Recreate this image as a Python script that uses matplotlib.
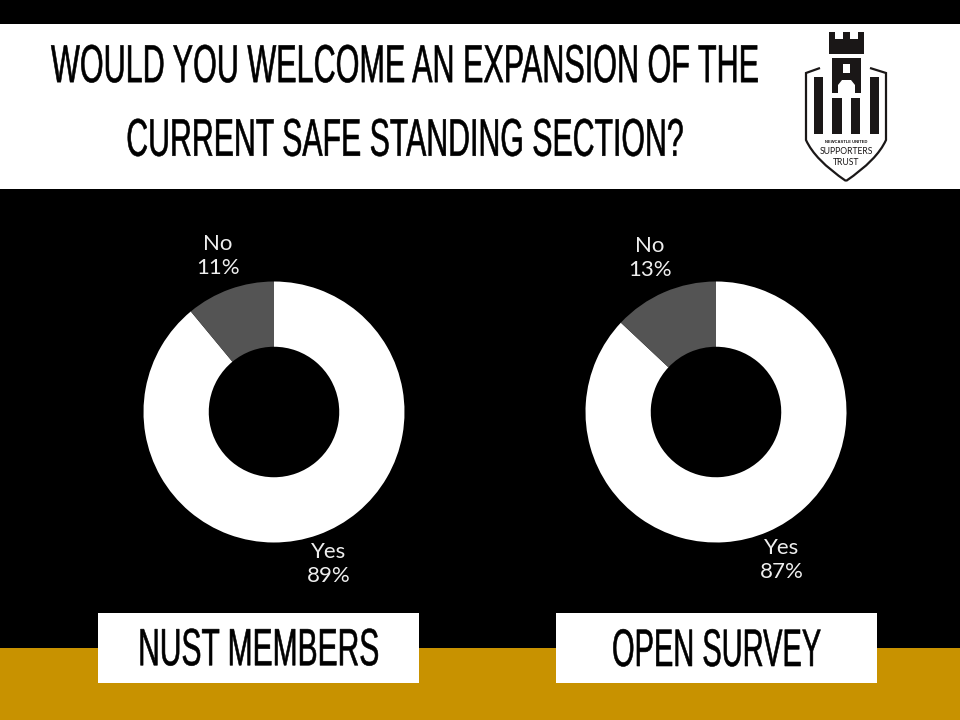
import matplotlib
matplotlib.use('Agg')
import matplotlib.pyplot as plt
from matplotlib.patches import Rectangle, Polygon, PathPatch
from matplotlib.path import Path
from matplotlib.patheffects import AbstractPathEffect
from matplotlib.transforms import Affine2D

title_lines = ['WOULD YOU WELCOME AN EXPANSION OF THE', 'CURRENT SAFE STANDING SECTION?']
categories = ['Yes', 'No']
nust_values = [89, 11]
open_values = [87, 13]
panel_names = ['NUST MEMBERS', 'OPEN SURVEY']

GOLD = '#c89200'
GREY = '#545454'
HEAD = 'Liberation Sans'
LIGHT = 'Lato'


# no condensed font installed: stretch the glyphs upward around their centre line
class TallText(AbstractPathEffect):
	def __init__(self, cy_px, factor):
		super().__init__()
		self.cy = 720 - cy_px
		self.factor = factor

	def draw_path(self, renderer, gc, tpath, affine, rgbFace=None):
		a = affine + Affine2D().translate(0, -self.cy).scale(1, self.factor).translate(0, self.cy)
		gc0 = renderer.new_gc()
		gc0.copy_properties(gc)
		gc0.set_linewidth(0.4)
		gc0.set_foreground('black')
		renderer.draw_path(gc0, tpath, a, rgbFace)
		gc0.restore()


fig = plt.figure(figsize=(9.6, 7.2), dpi=100, facecolor='black')

# whole figure in pixel coordinates for the poster furniture
bg = fig.add_axes([0, 0, 1, 1])
bg.set_xlim(0, 960)
bg.set_ylim(720, 0)
bg.axis('off')
bg.add_patch(Rectangle((0, 24), 960, 165, fc='white', ec='none'))
bg.add_patch(Rectangle((0, 648), 960, 72, fc=GOLD, ec='none'))
bg.add_patch(Rectangle((98, 613), 321, 70, fc='white', ec='none'))
bg.add_patch(Rectangle((556, 613), 321, 70, fc='white', ec='none'))


def tall_label(x, y, s, size, factor):
	t = bg.text(x, y, s, fontsize=size, family=HEAD, ha='center', va='center_baseline', color='black')
	t.set_path_effects([TallText(y, factor)])


tall_label(404.5, 62, title_lines[0], 22, 1.75)
tall_label(404.5, 136.5, title_lines[1], 21.8, 1.75)
tall_label(259, 646, panel_names[0], 21.6, 1.75)
tall_label(716.5, 646, panel_names[1], 20.9, 1.82)


def donut(cx, values, no_xy, yes_xy):
	r = 130.5
	ax = fig.add_axes([(cx - r) / 960, (720 - 412 - r) / 720, 2 * r / 960, 2 * r / 720])
	ax.pie(values, colors=['white', GREY], startangle=90, counterclock=False, radius=1,
		wedgeprops=dict(width=0.5, edgecolor='none'))
	ax.set_xlim(-1, 1)
	ax.set_ylim(-1, 1)
	bg.text(no_xy[0], no_xy[1], categories[1] + '\n' + str(values[1]) + '%', color='#eeeeee', fontsize=16,
		family=LIGHT, ha='center', va='center', linespacing=1.2)
	bg.text(yes_xy[0], yes_xy[1], categories[0] + '\n' + str(values[0]) + '%', color='#eeeeee', fontsize=16,
		family=LIGHT, ha='center', va='center', linespacing=1.2)


donut(274, nust_values, (218, 256), (329, 564))
donut(716, open_values, (650, 258), (782, 560))

# logo
dark = '#1a1717'
bg.add_patch(Polygon([(829, 32), (835, 32), (835, 39), (843, 39), (843, 32), (850, 32), (850, 39), (858, 39),
	(858, 32), (864, 32), (864, 54), (829, 54)], fc=dark, ec='none'))
bg.add_patch(Polygon([(832, 58), (861, 58), (861, 93), (855, 93), (855, 85), (851, 80), (842, 80), (838, 85),
	(838, 93), (832, 93)], fc=dark, ec='none'))
bg.add_patch(Rectangle((843, 64), 7, 9, fc='white', ec='none'))
for x, y0, w in [(814, 77, 9), (832, 98, 10), (851, 98, 9), (870, 77, 9)]:
	bg.add_patch(Rectangle((x, y0), w, 134 - y0, fc=dark, ec='none'))
curve = [Path.MOVETO, Path.LINETO, Path.LINETO, Path.CURVE3, Path.CURVE3]
bg.add_patch(PathPatch(Path([(820, 68), (806, 73), (806, 140), (815, 160), (846, 181)], curve),
	fc='none', ec=dark, lw=1.6))
bg.add_patch(PathPatch(Path([(870, 68), (886, 73), (886, 140), (877, 160), (846, 181)], curve),
	fc='none', ec=dark, lw=1.6))
bg.text(846, 142, 'NEWCASTLE UNITED', fontsize=3, weight='bold', family='Liberation Sans', ha='center', va='center', color=dark)
bg.text(846, 152, 'SUPPORTERS', fontsize=6.2, family='Lato', ha='center', va='center', color=dark)
bg.text(846, 162.5, 'TRUST', fontsize=6.2, family='Lato', ha='center', va='center', color=dark)

fig.savefig('out.png', dpi=100, facecolor='black')
